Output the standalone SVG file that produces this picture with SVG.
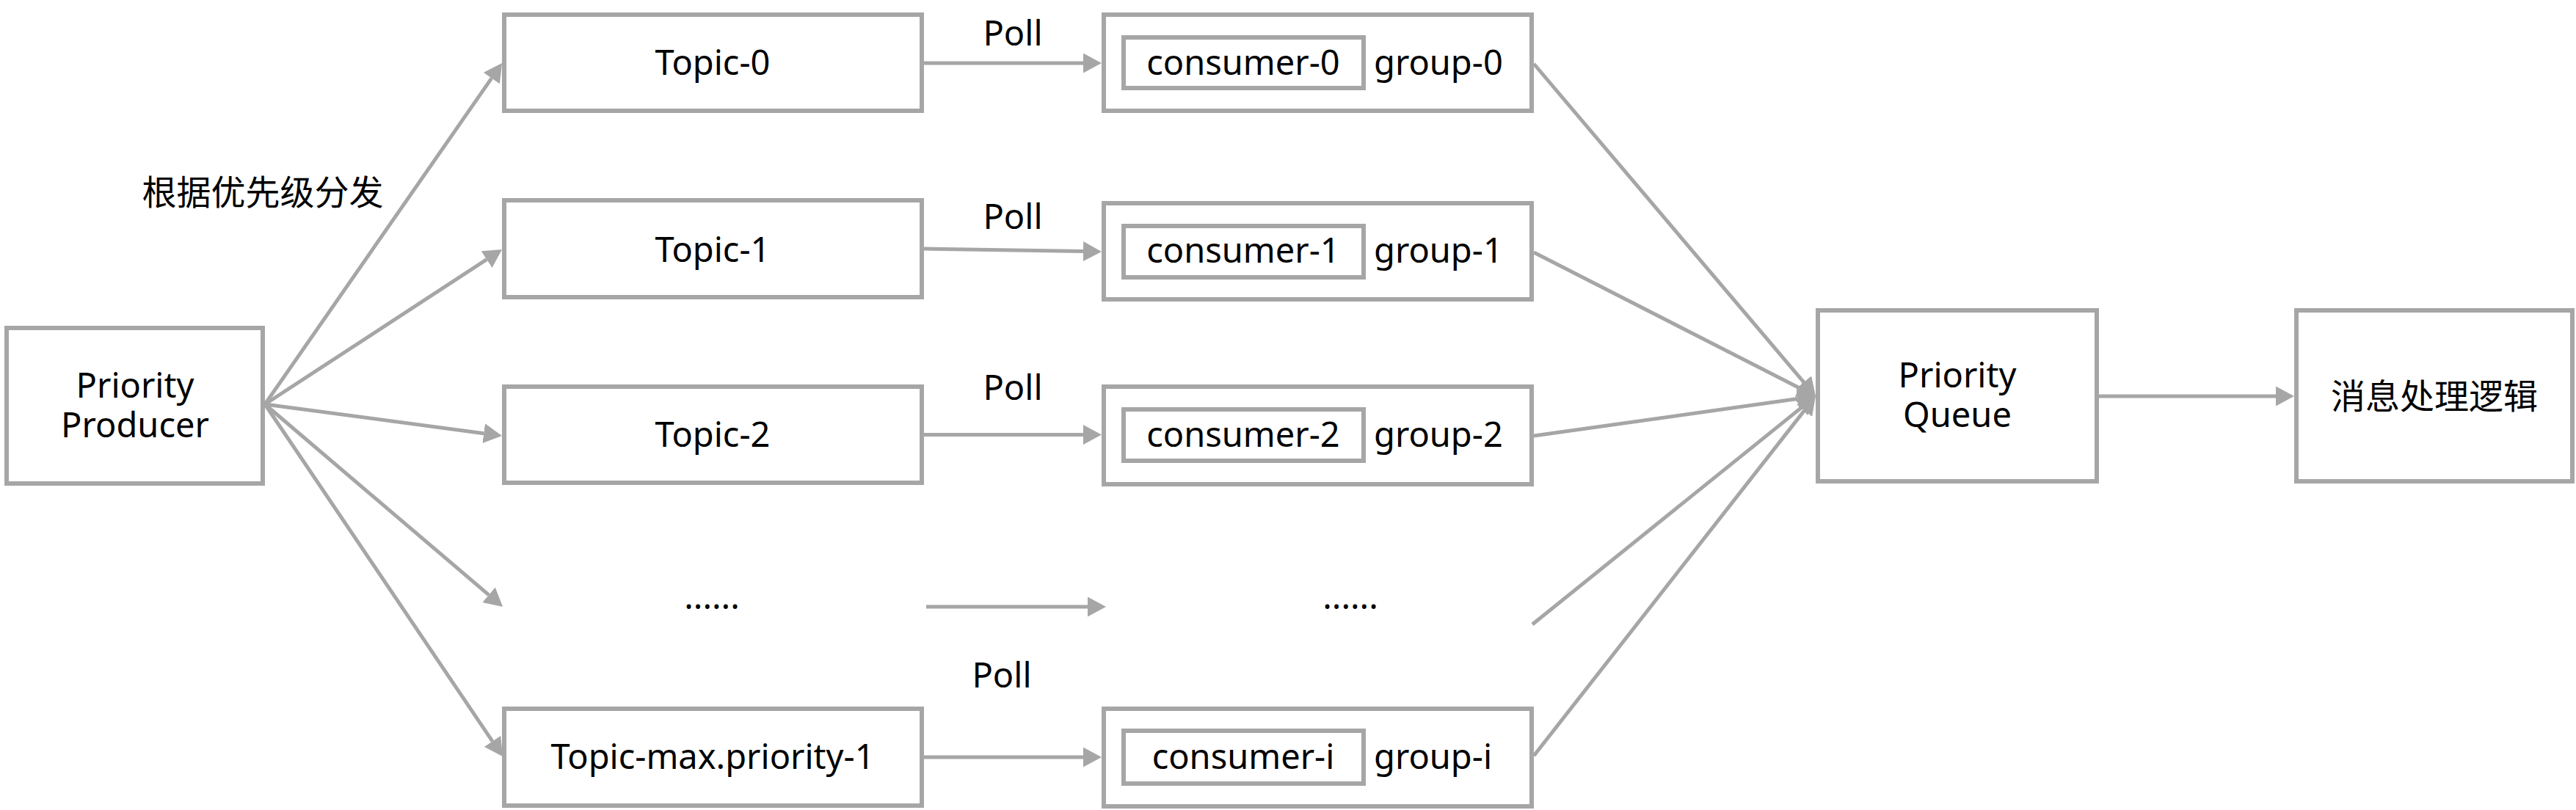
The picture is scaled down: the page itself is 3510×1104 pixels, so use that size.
<svg xmlns="http://www.w3.org/2000/svg" width="3510" height="1104" viewBox="0 0 3510 1104">
<style>
.box{fill:#fff;stroke:#A6A6A6;stroke-width:6}
.ln{fill:none;stroke:#A6A6A6;stroke-width:5}
text{font-family:"Noto Sans","Noto Sans CJK SC",sans-serif;font-size:47px;fill:#000}
.c{text-anchor:middle}
</style>
<defs>
<marker id="ah" markerUnits="userSpaceOnUse" markerWidth="25" markerHeight="27" refX="0" refY="13.5" orient="auto">
<path d="M0,0 L25,13.5 L0,27 Z" fill="#A6A6A6"/>
</marker>
</defs>
<rect width="3510" height="1104" fill="#fff"/>
<g id="producer">
<rect class="box" x="9" y="447" width="349" height="212"/>
<text class="c" x="184" y="542">Priority</text>
<text class="c" x="184" y="596">Producer</text>
</g>
<g id="topic-0">
<rect class="box" x="687" y="20" width="569" height="131"/>
<text class="c" x="971" y="102">Topic-0</text>
</g>
<g id="topic-1">
<rect class="box" x="687" y="273" width="569" height="132"/>
<text class="c" x="971" y="357">Topic-1</text>
</g>
<g id="topic-2">
<rect class="box" x="687" y="527" width="569" height="131"/>
<text class="c" x="971" y="609">Topic-2</text>
</g>
<g id="topic-dots">
<text class="c" x="970" y="830">......</text>
</g>
<g id="topic-max">
<rect class="box" x="687" y="966" width="569" height="132"/>
<text class="c" x="971" y="1048">Topic-max.priority-1</text>
</g>
<g id="group-0">
<rect class="box" x="1504" y="20" width="583" height="131"/>
<rect class="box" x="1531" y="51" width="327" height="69"/>
<text class="c" x="1694" y="102">consumer-0</text>
<text x="1872" y="102">group-0</text>
</g>
<g id="group-1">
<rect class="box" x="1504" y="277" width="583" height="131"/>
<rect class="box" x="1531" y="308" width="327" height="70"/>
<text class="c" x="1694" y="358">consumer-1</text>
<text x="1872" y="358">group-1</text>
</g>
<g id="group-2">
<rect class="box" x="1504" y="527" width="583" height="133"/>
<rect class="box" x="1531" y="558" width="327" height="70"/>
<text class="c" x="1694" y="609">consumer-2</text>
<text x="1872" y="609">group-2</text>
</g>
<g id="group-dots">
<text class="c" x="1840" y="830">......</text>
</g>
<g id="group-i">
<rect class="box" x="1504" y="966" width="583" height="133"/>
<rect class="box" x="1531" y="996" width="327" height="72"/>
<text class="c" x="1694" y="1048">consumer-i</text>
<text x="1872" y="1048">group-i</text>
</g>
<g id="priority-queue">
<rect class="box" x="2477" y="423" width="380" height="233"/>
<text class="c" x="2667" y="528">Priority</text>
<text class="c" x="2667" y="582">Queue</text>
</g>
<g id="handler">
<rect class="box" x="3129" y="423" width="376" height="233"/>
<text class="c" x="3317" y="557">消息处理逻辑</text>
</g>
<g id="connectors">
<line class="ln" x1="361" y1="551" x2="669.8" y2="106.6" marker-end="url(#ah)"/>
<line class="ln" x1="361" y1="551" x2="663.1" y2="353.7" marker-end="url(#ah)"/>
<line class="ln" x1="361" y1="551" x2="659.2" y2="590.7" marker-end="url(#ah)"/>
<line class="ln" x1="361" y1="551" x2="666" y2="810.8" marker-end="url(#ah)"/>
<line class="ln" x1="361" y1="551" x2="671" y2="1010.3" marker-end="url(#ah)"/>
<line class="ln" x1="1259" y1="86" x2="1476" y2="86" marker-end="url(#ah)"/>
<line class="ln" x1="1259" y1="339" x2="1476" y2="342.6" marker-end="url(#ah)"/>
<line class="ln" x1="1259" y1="592.5" x2="1476" y2="592.5" marker-end="url(#ah)"/>
<line class="ln" x1="1262" y1="827" x2="1482" y2="827" marker-end="url(#ah)"/>
<line class="ln" x1="1259" y1="1032" x2="1476" y2="1032" marker-end="url(#ah)"/>
<line class="ln" x1="2090" y1="87" x2="2457.8" y2="521" marker-end="url(#ah)"/>
<line class="ln" x1="2090" y1="344" x2="2451.7" y2="528.7" marker-end="url(#ah)"/>
<line class="ln" x1="2090" y1="594" x2="2449.2" y2="543.5" marker-end="url(#ah)"/>
<line class="ln" x1="2088" y1="851" x2="2454.5" y2="555.6" marker-end="url(#ah)"/>
<line class="ln" x1="2090" y1="1030" x2="2458.5" y2="559.6" marker-end="url(#ah)"/>
<line class="ln" x1="2860" y1="540" x2="3101" y2="540" marker-end="url(#ah)"/>
<text class="c" x="1380" y="62">Poll</text>
<text class="c" x="1380" y="312">Poll</text>
<text class="c" x="1380" y="545">Poll</text>
<text class="c" x="1365" y="937">Poll</text>
<text class="c" x="358" y="279">根据优先级分发</text>
</g>
</svg>
